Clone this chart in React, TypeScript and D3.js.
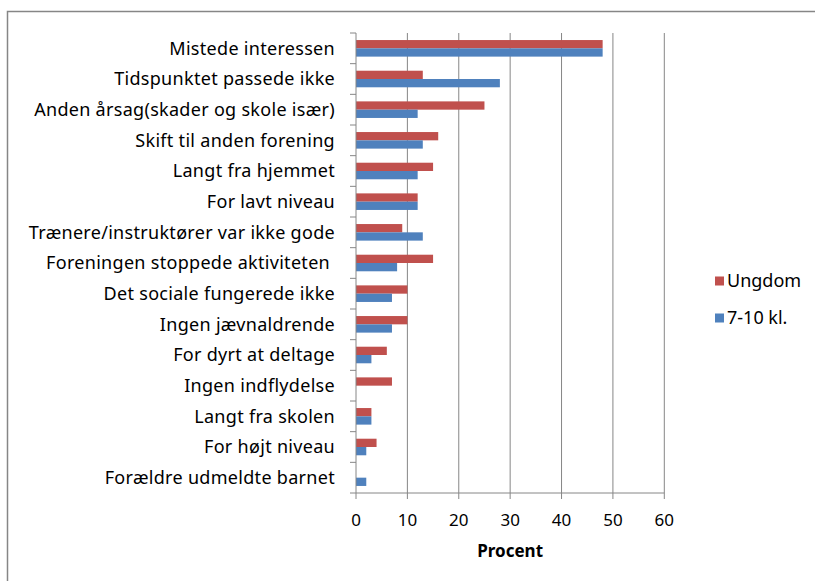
import React, { useEffect, useRef } from 'react';
import * as d3 from 'd3';

const categories = [
  'Mistede interessen',
  'Tidspunktet passede ikke',
  'Anden årsag(skader og skole især)',
  'Skift til anden forening',
  'Langt fra hjemmet',
  'For lavt niveau',
  'Trænere/instruktører var ikke gode',
  'Foreningen stoppede aktiviteten ',
  'Det sociale fungerede ikke',
  'Ingen jævnaldrende',
  'For dyrt at deltage',
  'Ingen indflydelse',
  'Langt fra skolen',
  'For højt niveau',
  'Forældre udmeldte barnet',
];
const ungdom = [48, 13, 25, 16, 15, 12, 9, 15, 10, 10, 6, 7, 3, 4, 0];
const klasse = [48, 28, 12, 13, 12, 12, 13, 8, 7, 7, 3, 0, 3, 2, 2];
const seriesNames = ['Ungdom', '7-10 kl.'];
const seriesColors = ['#C0504D', '#4F81BD'];
const xTicks = [0, 10, 20, 30, 40, 50, 60];

const FONT = "'Noto Sans', 'Open Sans', sans-serif";

export default function App() {
  const ref = useRef<SVGSVGElement>(null);

  useEffect(() => {
    const svg = d3.select(ref.current);
    svg.selectAll('*').remove();

    const left = 356, right = 664.3, top = 33, bottom = 493;
    const x = d3.scaleLinear().domain([0, 60]).range([left, right]);
    const y = d3.scaleBand().domain(categories).range([top, bottom]);
    const inner = d3.scaleBand().domain(seriesNames).range([0, y.bandwidth()]).paddingOuter(0.85);

    // frame
    svg.append('rect')
      .attr('x', 7.5).attr('y', 11.5)
      .attr('width', 830).attr('height', 600)
      .attr('fill', 'none').attr('stroke', '#868686').attr('stroke-width', 1.5);

    // gridlines
    svg.append('g').selectAll('line')
      .data(xTicks.slice(1))
      .join('line')
      .attr('x1', d => x(d)).attr('x2', d => x(d))
      .attr('y1', top).attr('y2', bottom)
      .attr('stroke', '#868686').attr('stroke-width', 1);

    // bars
    const rows = categories.map((c, i) => ({ c, vals: [ungdom[i], klasse[i]] }));
    const g = svg.append('g');
    rows.forEach(r => {
      r.vals.forEach((v, j) => {
        if (v <= 0) return;
        g.append('rect')
          .attr('x', x(0))
          .attr('y', (y(r.c) as number) + (inner(seriesNames[j]) as number))
          .attr('width', x(v) - x(0))
          .attr('height', inner.bandwidth())
          .attr('fill', seriesColors[j]);
      });
    });

    // left axis
    const yAxis = svg.append('g').attr('transform', `translate(${left},0)`);
    yAxis.append('line').attr('x1', 0).attr('x2', 0).attr('y1', top).attr('y2', bottom)
      .attr('stroke', '#868686').attr('stroke-width', 1);
    const yTickPos = d3.range(categories.length + 1).map(i => top + i * y.step());
    yAxis.selectAll('line.t').data(yTickPos).join('line').attr('class', 't')
      .attr('x1', -6).attr('x2', 0).attr('y1', d => d).attr('y2', d => d)
      .attr('stroke', '#868686');
    yAxis.selectAll('text').data(categories).join('text')
      .attr('x', -21)
      .attr('y', d => (y(d) as number) + y.bandwidth() / 2)
      .attr('dy', '0.35em')
      .attr('text-anchor', 'end')
      .attr('font-family', FONT).attr('font-size', 18).attr('fill', '#000')
      .attr('letter-spacing', 0.3)
      .style('white-space', 'pre')
      .text(d => d);

    // bottom axis
    const xAxis = svg.append('g').attr('transform', `translate(0,${bottom})`);
    xAxis.append('line').attr('x1', left).attr('x2', right).attr('y1', 0).attr('y2', 0)
      .attr('stroke', '#868686');
    xAxis.selectAll('line.t').data(xTicks).join('line').attr('class', 't')
      .attr('x1', d => x(d)).attr('x2', d => x(d)).attr('y1', 0).attr('y2', 6)
      .attr('stroke', '#868686');
    xAxis.selectAll('text').data(xTicks).join('text')
      .attr('x', d => x(d)).attr('y', 27)
      .attr('dy', '0.35em')
      .attr('text-anchor', 'middle')
      .attr('font-family', FONT).attr('font-size', 17).attr('fill', '#000')
      .text(d => d);

    svg.append('text')
      .attr('x', (left + right) / 2).attr('y', 551)
      .attr('dy', '0.35em')
      .attr('text-anchor', 'middle')
      .attr('font-family', FONT).attr('font-size', 17).attr('font-weight', 'bold')
      .text('Procent');

    // legend
    const lg = svg.append('g').selectAll('g').data(seriesNames).join('g')
      .attr('transform', (d, i) => `translate(715,${281 + i * 37})`);
    lg.append('rect').attr('x', 0).attr('y', -4.5).attr('width', 9).attr('height', 9)
      .attr('fill', (d, i) => seriesColors[i]);
    lg.append('text').attr('x', 12).attr('y', 0).attr('dy', '0.35em')
      .attr('font-family', FONT).attr('font-size', 18).attr('fill', '#000')
      .text(d => d);
  }, []);

  return (
    <svg ref={ref} width={815} height={581}
      style={{ position: 'absolute', left: 0, top: 0, background: '#fff' }} />
  );
}
